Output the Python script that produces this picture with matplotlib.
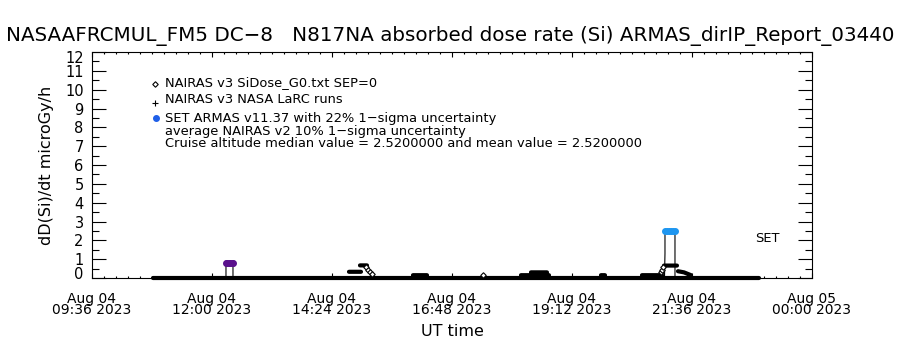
import matplotlib
matplotlib.use("Agg")
import matplotlib.pyplot as plt
import matplotlib.transforms as mtransforms
from matplotlib.ticker import MultipleLocator, FixedLocator
import datetime as dt
import matplotlib.dates as mdates

nan = float("nan")

# ---- data (UT hours on 2023-08-04) ----
# NAIRAS v3 LaRC runs (thick black trace, NaN separates pieces)
nairas_t = [10.82, 22.94, nan, 14.74, 14.98, nan, 14.96, 15.10, nan, 16.02, 16.30, nan,
            18.18, 18.74, nan, 18.38, 18.70, nan, 19.78, 19.86, nan, 20.60, 21.00, nan,
            21.04, 21.30, nan, 21.32, 21.44, 21.58]
nairas_v = [0.0, 0.0, nan, 0.33, 0.33, nan, 0.67, 0.67, nan, 0.15, 0.15, nan,
            0.15, 0.15, nan, 0.3, 0.3, nan, 0.15, 0.15, nan, 0.15, 0.15, nan,
            0.66, 0.66, nan, 0.36, 0.3, 0.15]

# NAIRAS v3 SiDose_G0 (diamonds)
g0_t = [15.08, 15.12, 15.16, 15.20, 17.42, 20.98, 21.00, 21.02]
g0_v = [0.60, 0.45, 0.32, 0.20, 0.15, 0.30, 0.45, 0.60]

# SET ARMAS v11.37 thin trace
armas_t = [10.82, 12.28, 12.28, 12.42, 12.42, 21.05, 21.06, 21.06, 21.26, 21.26, 22.94]
armas_v = [0.0, 0.0, 0.80, 0.80, 0.0, 0.0, 1.3, 2.52, 2.52, 0.0, 0.0]

# SET ARMAS points at altitude, coloured by flight segment
seg1_t = [12.28, 12.31, 12.34, 12.37, 12.40, 12.42]
seg1_v = [0.80, 0.80, 0.80, 0.80, 0.80, 0.80]
seg2_t = [21.06, 21.10, 21.14, 21.18, 21.22, 21.26]
seg2_v = [2.52, 2.52, 2.52, 2.52, 2.52, 2.52]

median_val = 2.52
mean_val = 2.52

x_start, x_end = 9.6, 24.0
y_min, y_max = 0.0, 12.0
ytick_vals = list(range(0, 13))

base = dt.datetime(2023, 8, 4)


def to_num(hours):
    return [mdates.date2num(base + dt.timedelta(hours=h)) if h == h else nan for h in hours]


fig = plt.figure(figsize=(9, 3.5), dpi=100)
ax = fig.add_axes([0.1022, 0.2057, 0.8, 0.6457])

ax.plot(to_num(armas_t), armas_v, color="black", lw=0.8, zorder=3, clip_on=False)
ax.plot(to_num(nairas_t), nairas_v, color="black", lw=3.0, solid_capstyle="round",
        zorder=4, clip_on=False)
ax.plot(to_num(g0_t), g0_v, ls="none", marker="D", ms=2.8, mfc="white", mec="black",
        mew=0.8, zorder=5)
ax.plot(to_num(seg1_t), seg1_v, ls="none", marker="o", ms=4, color="#5a118c", zorder=6)
ax.plot(to_num(seg2_t), seg2_v, ls="none", marker="o", ms=4, color="#1e96f0", zorder=6)

ax.set_xlim(mdates.date2num(base + dt.timedelta(hours=x_start)),
            mdates.date2num(base + dt.timedelta(hours=x_end)))
ax.set_ylim(y_min, y_max)

major = [base + dt.timedelta(hours=x_start + 2.4 * i) for i in range(7)]
minor = [base + dt.timedelta(hours=x_start + 0.24 * i) for i in range(61)]
ax.xaxis.set_major_locator(FixedLocator(mdates.date2num(major)))
ax.xaxis.set_minor_locator(FixedLocator(mdates.date2num(minor)))
ax.set_xticklabels([d.strftime("%b %d\n%H:%M %Y") for d in major], fontsize=10,
                   linespacing=0.78)
ax.yaxis.set_major_locator(FixedLocator(ytick_vals))
ax.yaxis.set_minor_locator(MultipleLocator(0.5))
ax.set_yticklabels([str(v) for v in ytick_vals], fontsize=10.5)

ax.tick_params(axis="x", which="major", direction="in", length=3.3, width=0.8,
               top=True, pad=10)
ax.tick_params(axis="x", which="minor", direction="in", length=1.7, width=0.8, top=True)
ax.tick_params(axis="y", which="major", direction="in", length=10, width=0.8,
               right=True, pad=6)
ax.tick_params(axis="y", which="minor", direction="in", length=5, width=0.8, right=True)
for s in ax.spines.values():
    s.set_linewidth(0.8)

# end labels of the y axis sit a little inside the axis span
yticks = ax.yaxis.get_major_ticks()
lab0 = yticks[0].label1
lab0.set_transform(lab0.get_transform() +
                   mtransforms.ScaledTranslation(0, 3.6 / 72, fig.dpi_scale_trans))
labN = yticks[-1].label1
labN.set_transform(labN.get_transform() +
                   mtransforms.ScaledTranslation(0, -3.6 / 72, fig.dpi_scale_trans))

ax.set_xlabel("UT time", fontsize=11.5, labelpad=5)
ax.set_ylabel("dD(Si)/dt microGy/h", fontsize=11.5, labelpad=8)
fig.suptitle("NASAAFRCMUL_FM5 DC\u22128   N817NA absorbed dose rate (Si) ARMAS_dirIP_Report_03440",
             fontsize=14.3, x=0.5, y=0.925)

# legend block
sx, tx = 0.0875, 0.101
ax.plot([sx], [0.858], transform=ax.transAxes, marker="D", ms=2.8, mfc="white",
        mec="black", mew=0.8, clip_on=False)
ax.text(tx, 0.867, "NAIRAS v3 SiDose_G0.txt SEP=0", transform=ax.transAxes,
        fontsize=9.4, va="center")
ax.plot([sx], [0.775], transform=ax.transAxes, marker="+", ms=5, color="black",
        mew=0.8, clip_on=False)
ax.text(tx, 0.788, "NAIRAS v3 NASA LaRC runs", transform=ax.transAxes,
        fontsize=9.4, va="center")
ax.plot([sx + 0.001], [0.710], transform=ax.transAxes, marker="o", ms=4, color="#1f5fe8",
        clip_on=False)
ax.text(tx, 0.705, "SET ARMAS v11.37 with 22% 1\u2212sigma uncertainty",
        transform=ax.transAxes, fontsize=9.4, va="center")
ax.text(tx, 0.650, "average NAIRAS v2 10% 1\u2212sigma uncertainty",
        transform=ax.transAxes, fontsize=9.4, va="center")
ax.text(tx, 0.594,
        "Cruise altitude median value = %.7f and mean value = %.7f" % (median_val, mean_val),
        transform=ax.transAxes, fontsize=9.4, va="center")
ax.text(0.921, 0.177, "SET", transform=ax.transAxes, fontsize=9.4, va="center")

fig.savefig("out.png", dpi=100)
